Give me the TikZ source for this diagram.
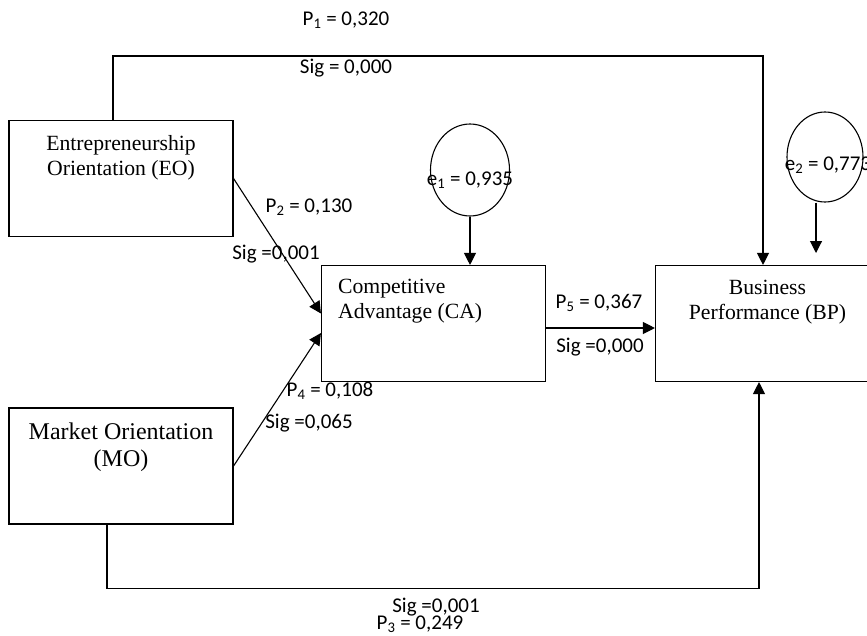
\documentclass[tikz,border=0pt]{standalone}
\usepackage{fontspec}
\setmainfont{Liberation Serif}
\newfontfamily\lblfont{Carlito}
\usetikzlibrary{arrows.meta,shapes.geometric}

\begin{document}
\begin{tikzpicture}[
    x=1pt, y=-1pt,
    box/.style={draw, line width=1.1pt, minimum width=224pt, minimum height=116pt, inner sep=0pt},
    boxtext/.style={font=\fontsize{21.7}{25}\selectfont, align=center, anchor=north,
                    inner sep=0pt, yshift=-15pt},
    err/.style={draw, ellipse, line width=1.1pt, inner sep=0pt},
    lbl/.style={font=\lblfont\fontsize{21}{25}\selectfont, anchor=base, inner sep=0pt},
    line/.style={-{Triangle[length=12pt,width=12pt]}, line width=1.1pt}
]
\useasboundingbox (0,0) rectangle (867,635);
\clip (0,0) rectangle (867,635);

\node[box, label={[boxtext]north:Entrepreneurship\\Orientation (EO)}] (eo) at (121,178.5) {};
\node[box, label={[boxtext, font=\fontsize{24}{27.5}\selectfont]north:Market Orientation\\(MO)}] (mo) at (121,466) {};
\node[box, label={[boxtext, anchor=north west, align=left, xshift=17pt, yshift=1pt]north west:Competitive\\Advantage (CA)}] (ca) at (433.5,323.5) {};
\node[box, label={[boxtext]north:Business\\Performance (BP)}] (bp) at (767.5,323.5) {};

\node[err, minimum width=79pt, minimum height=92pt,
      label={[lbl, yshift=-10pt]center:e\textsubscript{1} = 0,935}] (e1) at (470,170) {};
\node[err, minimum width=76pt, minimum height=90pt,
      label={[lbl, xshift=3pt, yshift=-8pt]center:e\textsubscript{2} = 0,773}] (e2) at (825,157) {};
\coordinate (e2tip) at (816,253);

\draw[line] (eo.east) -- ([yshift=10pt]ca.west);
\draw[line] (mo.east) -- ([yshift=-9.5pt]ca.west);
\draw[line] ([xshift=-8pt]eo.north) -- ++(0,-64) -| ([xshift=-4.5pt]bp.north);
\draw[line] ([xshift=-14pt]mo.south) -- ++(0,64) -| ([xshift=-8.5pt]bp.south);
\draw[line] ([yshift=-4.5pt]ca.east) -- ([yshift=-4.5pt]bp.west);
\draw[line] (e1.south) -- (e1.south |- ca.north);
\draw[line] ([xshift=-9pt]e2.south) -- (e2tip);

\node[lbl] (p1) at (346,25)  {P\textsubscript{1} = 0,320};
\node[lbl] (s1) at (346,73)  {Sig = 0,000};
\node[lbl] (p2) at (309,212) {P\textsubscript{2} = 0,130};
\node[lbl] (s2) at (276,259) {Sig =0,001};
\node[lbl] (p4) at (330,396) {P\textsubscript{4} = 0,108};
\node[lbl] (s4) at (309,428) {Sig =0,065};
\node[lbl] (p5) at (599,308) {P\textsubscript{5} = 0,367};
\node[lbl] (s5) at (600,352) {Sig =0,000};
\node[lbl] (s3) at (436,612) {Sig =0,001};
\node[lbl] (p3) at (420,629) {P\textsubscript{3} = 0,249};
\end{tikzpicture}
\end{document}
